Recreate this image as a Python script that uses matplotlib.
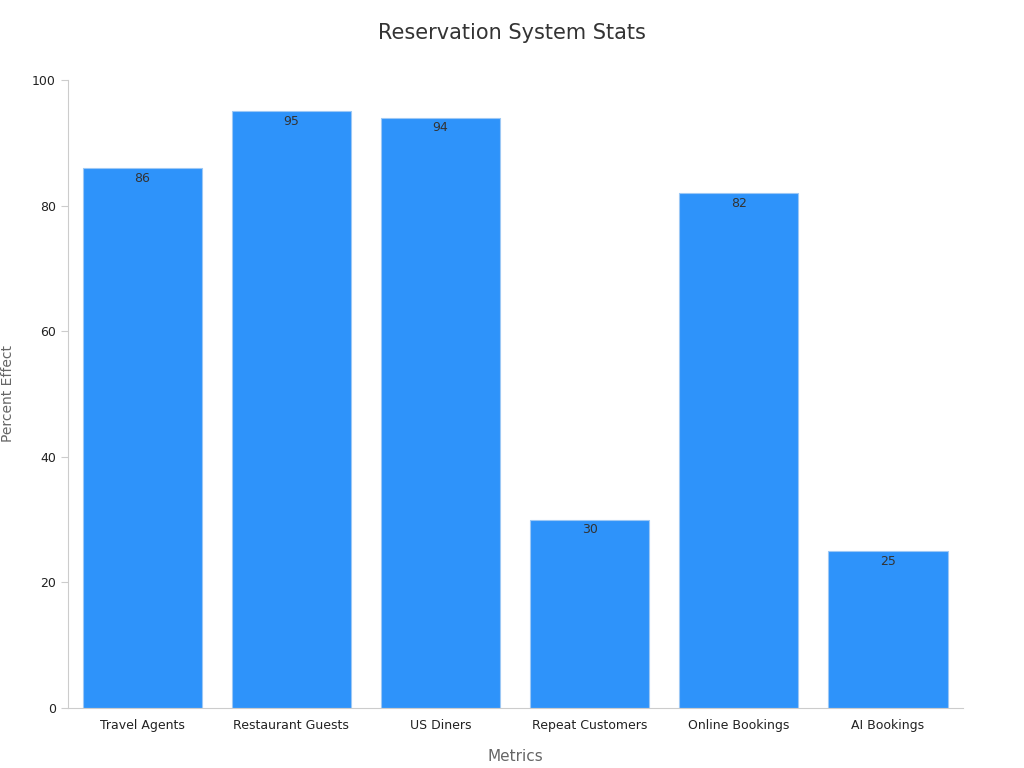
import matplotlib
matplotlib.use("Agg")
import matplotlib.pyplot as plt

categories = ["Travel Agents", "Restaurant Guests", "US Diners",
              "Repeat Customers", "Online Bookings", "AI Bookings"]
values = [86, 95, 94, 30, 82, 25]

fig = plt.figure(figsize=(10.24, 7.68), dpi=100)
ax = fig.add_axes([0.066, 0.078, 0.874, 0.818])

bars = ax.bar(range(len(categories)), values, width=0.8,
              color="#2E93FA", edgecolor="#9cc8f5", linewidth=0.8)
for b, v in zip(bars, values):
    ax.text(b.get_x() + b.get_width() / 2, v - 0.6, str(v),
            ha="center", va="top", fontsize=9, color="#333333")

ax.set_xlim(-0.5, 5.5)
ax.set_ylim(0, 100)
ax.set_xticks(range(len(categories)))
ax.set_xticklabels(categories, fontsize=9, color="#222222")
ax.set_yticks([0, 20, 40, 60, 80, 100])
ax.tick_params(axis="y", labelsize=9, colors="#222222", length=5, color="#cccccc")
ax.tick_params(axis="x", length=0, pad=8)

for s in ["top", "right"]:
    ax.spines[s].set_visible(False)
for s in ["left", "bottom"]:
    ax.spines[s].set_color("#cccccc")

ax.set_xlabel("Metrics", fontsize=11, color="#666666", labelpad=12)
ax.set_ylabel("Percent Effect", fontsize=10, color="#666666", labelpad=12)
fig.suptitle("Reservation System Stats", fontsize=15, color="#333333", y=0.97)

fig.savefig("out.png", dpi=100)
